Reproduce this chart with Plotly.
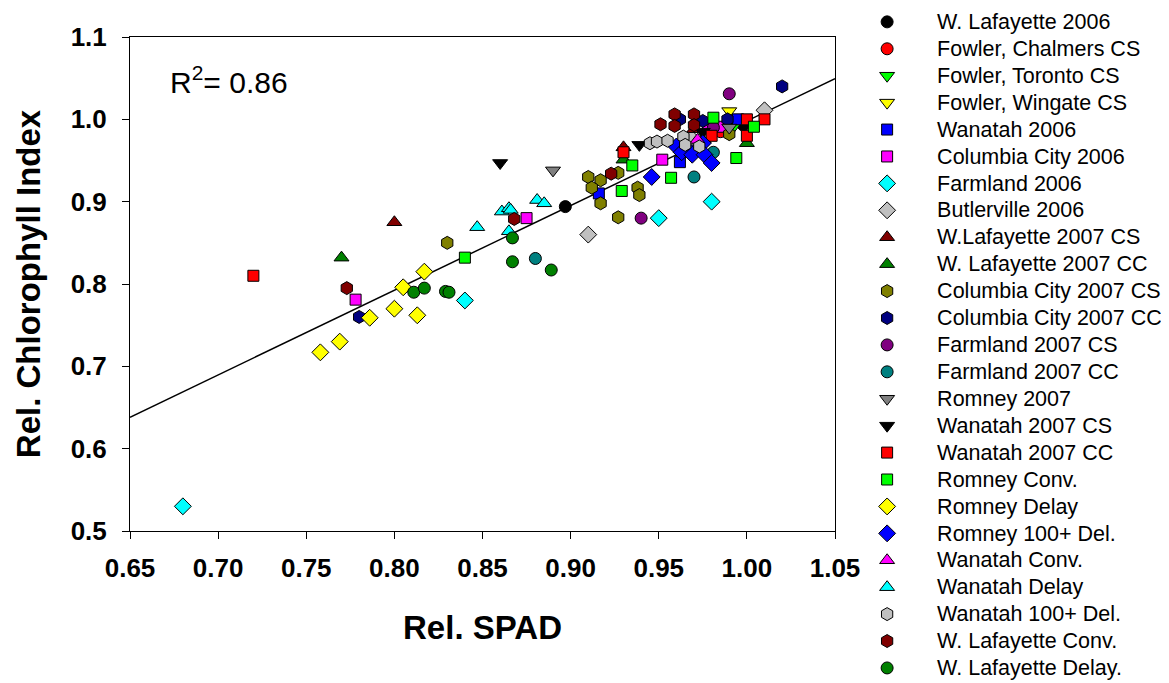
import plotly.graph_objects as go
import numpy as np

# ---- data ----
wlaf06_x = [0.897, 0.998]
wlaf06_y = [0.894, 0.993]
fowler_chal_x = [0.985]
fowler_chal_y = [0.985]
fowler_tor_x = [0.992]
fowler_tor_y = [0.990]
fowler_wing_x = [0.990]
fowler_wing_y = [1.010]
wan06_x = [0.916, 0.962, 0.995, 0.970]
wan06_y = [0.910, 0.948, 1.000, 0.962]
colc06_x = [0.778, 0.875, 0.952, 0.986, 0.978]
colc06_y = [0.781, 0.880, 0.951, 0.991, 0.990]
farm06_x = [0.680, 0.840, 0.950, 0.980]
farm06_y = [0.530, 0.780, 0.880, 0.900]
butl06_x = [0.910, 1.010, 0.968, 0.975]
butl06_y = [0.860, 1.011, 0.978, 0.972]
wlaf07cs_x = [0.800, 0.930, 0.970]
wlaf07cs_y = [0.875, 0.966, 0.988]
wlaf07cc_x = [0.770, 0.930, 1.000]
wlaf07cc_y = [0.832, 0.951, 0.971]
colc07cs_x = [0.830, 0.910, 0.917, 0.912, 0.927, 0.938, 0.939, 0.917, 0.927, 0.990]
colc07cs_y = [0.850, 0.930, 0.926, 0.917, 0.935, 0.917, 0.908, 0.898, 0.881, 0.982]
colc07cc_x = [0.780, 1.020, 0.989, 0.962, 0.975]
colc07cc_y = [0.760, 1.040, 1.000, 1.000, 0.998]
farm07cs_x = [0.940, 0.990, 0.981]
farm07cs_y = [0.880, 1.031, 0.990]
farm07cc_x = [0.880, 0.970, 0.981]
farm07cc_y = [0.831, 0.930, 0.960]
romney07_x = [0.890, 0.990, 0.976]
romney07_y = [0.938, 0.990, 0.982]
wan07cs_x = [0.860, 0.939, 0.975]
wan07cs_y = [0.947, 0.969, 0.985]
wan07cc_x = [0.720, 0.930, 0.980, 1.000, 1.000, 1.010]
wan07cc_y = [0.810, 0.960, 0.980, 1.000, 0.980, 1.000]
romconv_x = [0.840, 0.929, 0.935, 0.957, 0.994, 0.981, 1.004]
romconv_y = [0.832, 0.913, 0.944, 0.929, 0.953, 1.002, 0.991]
romdel_x = [0.758, 0.769, 0.786, 0.800, 0.813, 0.805, 0.817]
romdel_y = [0.717, 0.730, 0.759, 0.770, 0.762, 0.796, 0.815]
rom100_x = [0.946, 0.960, 0.963, 0.969, 0.975, 0.976, 0.980]
rom100_y = [0.930, 0.967, 0.960, 0.957, 0.971, 0.957, 0.947]
wanconv_x = [0.972]
wanconv_y = [0.975]
wandel_x = [0.847, 0.861, 0.865, 0.866, 0.881, 0.885, 0.865]
wandel_y = [0.869, 0.888, 0.892, 0.890, 0.902, 0.898, 0.864]
wan100_x = [0.945, 0.949, 0.955, 0.964, 0.965, 0.973]
wan100_y = [0.971, 0.973, 0.974, 0.979, 0.969, 0.967]
wlafconv_x = [0.773, 0.868, 0.923, 0.951, 0.959, 0.959, 0.970, 0.970]
wlafconv_y = [0.795, 0.879, 0.934, 0.994, 1.006, 0.992, 1.006, 0.993]
wlafdel_x = [0.811, 0.817, 0.829, 0.831, 0.867, 0.867, 0.889]
wlafdel_y = [0.790, 0.795, 0.791, 0.790, 0.856, 0.827, 0.817]

# regression fit parameters
fit_slope = 1.028
fit_intercept = -0.030
r_squared = 0.86

x_ticks = [0.65, 0.70, 0.75, 0.80, 0.85, 0.90, 0.95, 1.00, 1.05]
y_ticks = [0.5, 0.6, 0.7, 0.8, 0.9, 1.0, 1.1]

series = [
    ("W. Lafayette 2006", wlaf06_x, wlaf06_y, "circle", "#000000"),
    ("Fowler, Chalmers CS", fowler_chal_x, fowler_chal_y, "circle", "#FF0000"),
    ("Fowler, Toronto CS", fowler_tor_x, fowler_tor_y, "triangle-down", "#00FF00"),
    ("Fowler, Wingate CS", fowler_wing_x, fowler_wing_y, "triangle-down", "#FFFF00"),
    ("Wanatah 2006", wan06_x, wan06_y, "square", "#0000FF"),
    ("Columbia City 2006", colc06_x, colc06_y, "square", "#FF00FF"),
    ("Farmland 2006", farm06_x, farm06_y, "diamond", "#00FFFF"),
    ("Butlerville 2006", butl06_x, butl06_y, "diamond", "#C0C0C0"),
    ("W.Lafayette 2007 CS", wlaf07cs_x, wlaf07cs_y, "triangle-up", "#800000"),
    ("W. Lafayette 2007 CC", wlaf07cc_x, wlaf07cc_y, "triangle-up", "#008000"),
    ("Columbia City 2007 CS", colc07cs_x, colc07cs_y, "hexagon", "#808000"),
    ("Columbia City 2007 CC", colc07cc_x, colc07cc_y, "hexagon", "#000080"),
    ("Farmland 2007 CS", farm07cs_x, farm07cs_y, "circle", "#800080"),
    ("Farmland 2007 CC", farm07cc_x, farm07cc_y, "circle", "#008080"),
    ("Romney 2007", romney07_x, romney07_y, "triangle-down", "#808080"),
    ("Wanatah 2007 CS", wan07cs_x, wan07cs_y, "triangle-down", "#000000"),
    ("Wanatah 2007 CC", wan07cc_x, wan07cc_y, "square", "#FF0000"),
    ("Romney Conv.", romconv_x, romconv_y, "square", "#00FF00"),
    ("Romney Delay", romdel_x, romdel_y, "diamond", "#FFFF00"),
    ("Romney 100+ Del.", rom100_x, rom100_y, "diamond", "#0000FF"),
    ("Wanatah Conv.", wanconv_x, wanconv_y, "triangle-up", "#FF00FF"),
    ("Wanatah Delay", wandel_x, wandel_y, "triangle-up", "#00FFFF"),
    ("Wanatah 100+ Del.", wan100_x, wan100_y, "hexagon", "#C0C0C0"),
    ("W. Lafayette Conv.", wlafconv_x, wlafconv_y, "hexagon", "#800000"),
    ("W. Lafayette Delay.", wlafdel_x, wlafdel_y, "circle", "#008000"),
]

symbol_size = {"circle": 12, "square": 11, "diamond": 13,
               "triangle-up": 13, "triangle-down": 13, "hexagon": 13}

FONT = "Liberation Sans, Arial, sans-serif"
LEGEND_TEXT_PX = 21.5

fig = go.Figure()

line_x = np.array([x_ticks[0], x_ticks[-1]])
line_y = fit_slope * line_x + fit_intercept
fig.add_trace(go.Scatter(x=line_x, y=line_y, mode="lines",
                         line=dict(color="black", width=1.5),
                         showlegend=False, hoverinfo="skip"))

for name, xs, ys, sym, col in series:
    fig.add_trace(go.Scatter(
        x=xs, y=ys, mode="markers",
        name='<span style="font-size:%spx">%s</span>' % (LEGEND_TEXT_PX, name),
        hovertext=name, hoverinfo="x+y+text",
        marker=dict(symbol=sym, color=col, size=symbol_size[sym],
                    line=dict(color="black", width=1)),
    ))

fig.add_annotation(
    x=0.054, y=0.913, xref="paper", yref="paper",
    xanchor="left", yanchor="middle", showarrow=False,
    text="R<sup>2</sup>= %.2f" % r_squared,
    font=dict(family=FONT, size=30, color="black"),
)

axis_common = dict(
    showgrid=False, zeroline=False, showline=True, linecolor="black",
    linewidth=1, mirror=True, ticks="outside", ticklen=7,
    tickcolor="black", tickwidth=1,
    tickfont=dict(family=FONT, size=26, color="black", weight="bold"),
)

fig.update_layout(
    width=1169, height=683,
    paper_bgcolor="white", plot_bgcolor="white",
    margin=dict(l=122, r=342, t=29, b=160, autoexpand=False),
    xaxis=dict(range=[0.65, 1.05], tickvals=x_ticks,
               ticktext=["%.2f" % v for v in x_ticks],
               ticklabelstandoff=7,
               title=dict(text="Rel. SPAD", standoff=33,
                          font=dict(family=FONT, size=33, color="black", weight="bold")),
               **axis_common),
    yaxis=dict(range=[0.5, 1.1], tickvals=y_ticks,
               ticktext=["%.1f" % v for v in y_ticks],
               ticklabelstandoff=10,
               title=dict(text="Rel. Chlorophyll Index", standoff=20,
                          font=dict(family=FONT, size=33, color="black", weight="bold")),
               **axis_common),
    legend=dict(x=1.003, xref="paper", y=1.068, yref="paper",
                xanchor="left", yanchor="top", maxheight=1200,
                font=dict(family=FONT, size=18.4, color="black"),
                itemwidth=90, tracegroupgap=0, bgcolor="rgba(0,0,0,0)"),
    showlegend=True,
)

fig.write_html("out.html")
